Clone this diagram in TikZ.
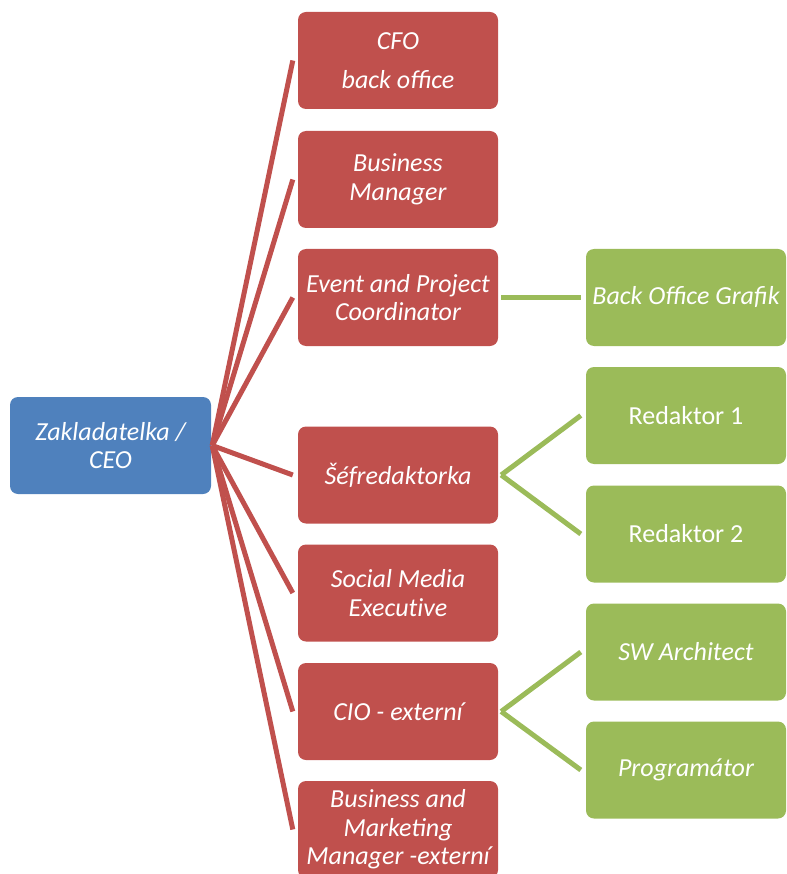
\documentclass[tikz,border=0pt]{standalone}
\usepackage{fontspec}
\setmainfont{Carlito}
\definecolor{rootblue}{HTML}{4F81BD}
\definecolor{midred}{HTML}{C0504D}
\definecolor{leafgreen}{HTML}{9BBB59}
% break the t-i ligature of the font
\newcommand{\tsep}{t\kern0pt }
\begin{document}
\begin{tikzpicture}[x=1pt,y=-1pt,
  card/.style={rectangle, rounded corners=8pt, minimum width=200pt,
    minimum height=97pt, inner sep=0pt, align=center, text=white,
    font=\fontsize{26}{28.5}\selectfont},
  itcard/.style={card, font=\fontsize{26}{28.5}\selectfont\itshape},
  rootcard/.style={itcard, fill=rootblue, minimum width=201pt},
  redcard/.style={itcard, fill=midred},
  greencard/.style={itcard, fill=leafgreen},
  plaingreen/.style={card, fill=leafgreen},
  redlink/.style={draw=midred, line width=5pt},
  greenlink/.style={draw=leafgreen, line width=5pt}]
\path[use as bounding box] (0,0) rectangle (786,874);
\clip (0,0) rectangle (786,874);

% root
\node[rootcard] (root) at (110.5,445.5) {Zakladatelka /\\CEO};

% second level
\node[redcard] (c1) at (398,60.5) {CFO\\[11pt]back office};
\node[redcard] (c2) at (398,179.5) {Business\\Manager};
\node[redcard] (c3) at (398,297.5) {Event and Project\\Coordinator};
\node[redcard] (c4) at (398,475) {Šéfredaktorka};
\node[redcard] (c5) at (398,593) {Social Media\\Execu\tsep ive};
\node[redcard] (c6) at (398,711.5) {CIO - externí};
\node[redcard] (c7) at (398,829.5) {Business and\\Marketing\\Manager -externí};

% third level
\node[greencard] (g1) at (686,297.5) {Back Office Grafik};
\node[plaingreen] (g2) at (686,415.5) {Redaktor 1};
\node[plaingreen] (g3) at (686,534) {Redaktor 2};
\node[greencard] (g4) at (686,652) {SW Archi\tsep ect};
\node[greencard] (g5) at (686,770) {Programátor};

% connectors from the root
\foreach \c in {c1,c2,c3,c4,c5,c6,c7}
  \draw[redlink] ([xshift=1pt]root.east) -- ([xshift=-5pt]\c.west);

% connectors to the third level
\draw[greenlink] ([xshift=3pt]c3.east) -- ([xshift=-5pt]g1.west);
\draw[greenlink] ([xshift=3pt]c4.east) -- ([xshift=-5pt]g2.west);
\draw[greenlink] ([xshift=3pt]c4.east) -- ([xshift=-5pt]g3.west);
\draw[greenlink] ([xshift=3pt]c6.east) -- ([xshift=-5pt]g4.west);
\draw[greenlink] ([xshift=3pt]c6.east) -- ([xshift=-5pt]g5.west);
\end{tikzpicture}
\end{document}
